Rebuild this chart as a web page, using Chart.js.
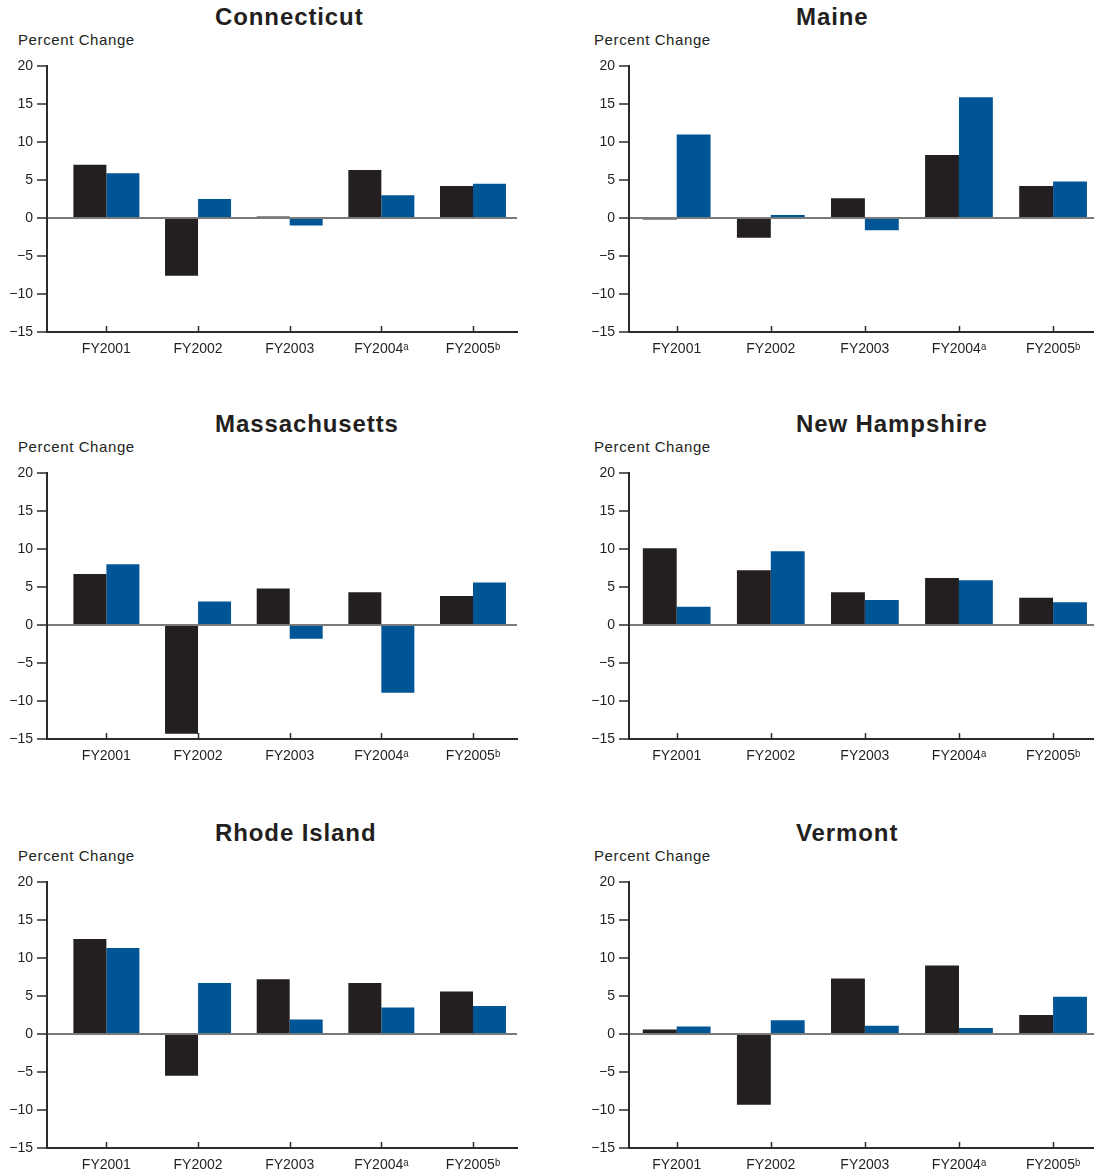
<!DOCTYPE html>
<html>
<head>
<meta charset="utf-8">
<script src="https://cdn.jsdelivr.net/npm/chart.js@4.4.1/dist/chart.umd.min.js"></script>
<style>
  html, body { margin: 0; padding: 0; background: #ffffff; overflow: hidden; }
  #page { position: relative; width: 1094px; height: 1175px; font-family: "Liberation Sans", Arial, sans-serif; color: #231f20; }
  .ttl { position: absolute; font-weight: bold; font-size: 24px; line-height: 24px; letter-spacing: 0.9px; white-space: nowrap; color: #231f20; }
  .ylab { position: absolute; font-size: 15px; line-height: 15px; letter-spacing: 0.6px; white-space: nowrap; color: #231f20; }
  canvas { position: absolute; }
</style>
</head>
<body>
<div id="page"></div>
<script>
// ---- data ----
const categories = ['FY2001', 'FY2002', 'FY2003', 'FY2004\u1D43', 'FY2005\u1D47'];
const yTickValues = [-15, -10, -5, 0, 5, 10, 15, 20];
const states = ['Connecticut', 'Maine', 'Massachusetts', 'New Hampshire', 'Rhode Island', 'Vermont'];
const axisLabel = 'Percent Change';
const seriesNames = ['Series A', 'Series B'];

const ctBlack = [7.0, -7.6, 0.2, 6.3, 4.2];
const ctBlue  = [5.9, 2.5, -1.0, 3.0, 4.5];
const meBlack = [-0.2, -2.6, 2.6, 8.3, 4.2];
const meBlue  = [11.0, 0.4, -1.6, 15.9, 4.8];
const maBlack = [6.7, -14.3, 4.8, 4.3, 3.8];
const maBlue  = [8.0, 3.1, -1.8, -8.9, 5.6];
const nhBlack = [10.1, 7.2, 4.3, 6.2, 3.6];
const nhBlue  = [2.4, 9.7, 3.3, 5.9, 3.0];
const riBlack = [12.5, -5.5, 7.2, 6.7, 5.6];
const riBlue  = [11.3, 6.7, 1.9, 3.5, 3.7];
const vtBlack = [0.6, -9.3, 7.3, 9.0, 2.5];
const vtBlue  = [1.0, 1.8, 1.1, 0.8, 4.9];

const stateSeries = [
  [ctBlack, ctBlue], [meBlack, meBlue],
  [maBlack, maBlue], [nhBlack, nhBlue],
  [riBlack, riBlue], [vtBlack, vtBlue]
];

// ---- styles / layout ----
const BLACK = '#231f20';
const BLUE = '#005596';
const AXIS = '#2b2b2b';
const ZERO = '#7a7a7a';
const rowOffsets = [0, 407, 816];
const colSpec = [
  { left: 0, width: 540, yAxisW: 47, padRight: 23, xmin: -0.648, xmax: 4.48, ylabX: 18, titleX: 215 },
  { left: 560, width: 534, yAxisW: 69, padRight: 0, xmin: -0.507, xmax: 4.435, ylabX: 594, titleX: 796 }
];

const innerTicks = {
  id: 'innerTicks',
  afterDraw(chart) {
    const { ctx, chartArea, scales } = chart;
    const x = scales.x;
    ctx.save();
    ctx.strokeStyle = AXIS;
    ctx.lineWidth = 1.5;
    x.ticks.forEach(t => {
      const px = Math.round(x.getPixelForValue(t.value)) + 0.5;
      ctx.beginPath();
      ctx.moveTo(px, chartArea.bottom);
      ctx.lineTo(px, chartArea.bottom - 6);
      ctx.stroke();
    });
    ctx.restore();
  }
};

const page = document.getElementById('page');

states.forEach((name, i) => {
  const row = Math.floor(i / 2), col = i % 2;
  const spec = colSpec[col];
  const top = rowOffsets[row];

  const t = document.createElement('div');
  t.className = 'ttl';
  t.textContent = name;
  t.style.left = spec.titleX + 'px';
  t.style.top = (top + 4.5) + 'px';
  page.appendChild(t);

  const yl = document.createElement('div');
  yl.className = 'ylab';
  yl.textContent = axisLabel;
  yl.style.left = spec.ylabX + 'px';
  yl.style.top = (top + 31.5) + 'px';
  page.appendChild(yl);

  const cv = document.createElement('canvas');
  cv.width = spec.width; cv.height = 310;
  cv.style.width = spec.width + 'px'; cv.style.height = '310px';
  cv.style.left = spec.left + 'px';
  cv.style.top = (top + 50) + 'px';
  page.appendChild(cv);

  const [blackVals, blueVals] = stateSeries[i];
  new Chart(cv.getContext('2d'), {
    type: 'bar',
    data: {
      datasets: [
        { label: seriesNames[0], data: blackVals.map((v, k) => ({ x: k, y: v })), backgroundColor: BLACK, borderWidth: 0, categoryPercentage: 0.72, barPercentage: 1.0 },
        { label: seriesNames[1], data: blueVals.map((v, k) => ({ x: k, y: v })), backgroundColor: BLUE, borderWidth: 0, categoryPercentage: 0.72, barPercentage: 1.0 }
      ]
    },
    options: {
      responsive: false,
      animation: false,
      events: [],
      layout: { padding: { top: 16, right: spec.padRight, left: 0, bottom: 0 } },
      plugins: { legend: { display: false }, tooltip: { enabled: false }, title: { display: false } },
      scales: {
        x: {
          type: 'linear',
          offset: false,
          min: spec.xmin, max: spec.xmax,
          afterBuildTicks: s => { s.ticks = categories.map((c, k) => ({ value: k })); },
          afterFit: s => { s.height = 28; },
          ticks: {
            autoSkip: false, maxRotation: 0, padding: 9,
            color: BLACK,
            font: { family: '"Liberation Sans", Arial, sans-serif', size: 14 },
            callback: v => categories[v] !== undefined ? categories[v] : ''
          },
          grid: { display: false, drawTicks: false, offset: false },
          border: { display: true, color: AXIS, width: 2 }
        },
        y: {
          min: -15, max: 20,
          afterBuildTicks: s => { s.ticks = yTickValues.map(v => ({ value: v })); },
          afterFit: s => { s.width = spec.yAxisW; },
          ticks: {
            padding: 4,
            color: BLACK,
            font: { family: '"Liberation Sans", Arial, sans-serif', size: 14 },
            callback: v => (v < 0 ? '\u2212' + Math.abs(v) : String(v))
          },
          grid: {
            drawTicks: true, tickLength: 10, tickWidth: 1.5, tickColor: AXIS,
            color: c => (c.tick && c.tick.value === 0 ? ZERO : 'rgba(0,0,0,0)'),
            lineWidth: c => (c.tick && c.tick.value === 0 ? 2 : 0)
          },
          border: { display: true, color: AXIS, width: 2 }
        }
      }
    },
    plugins: [innerTicks]
  });
});
</script>
</body>
</html>
